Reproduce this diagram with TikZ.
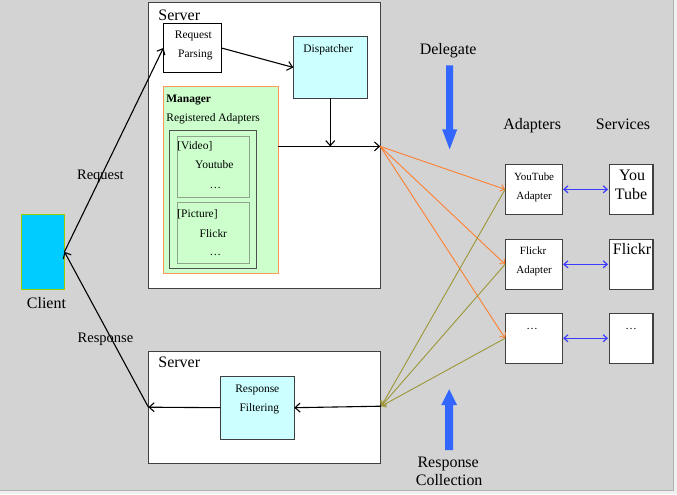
\documentclass[tikz,border=0pt]{standalone}
\usepackage{fontspec}
\setmainfont{Liberation Serif}
\usetikzlibrary{arrows.meta,calc}
\definecolor{bggray}{RGB}{211,211,211}
\definecolor{edgegray}{RGB}{64,64,64}
\definecolor{lcyan}{RGB}{204,255,255}
\definecolor{lgreen}{RGB}{204,255,204}
\definecolor{mgrorange}{RGB}{255,153,85}
\definecolor{innergreen}{RGB}{140,165,140}
\definecolor{darkframe}{RGB}{80,80,80}
\definecolor{clientfill}{RGB}{0,204,255}
\definecolor{clientedge}{RGB}{153,204,0}
\definecolor{orangeline}{RGB}{255,128,48}
\definecolor{oliveline}{RGB}{155,150,55}
\definecolor{blueline}{RGB}{60,60,255}
\definecolor{bigblue}{RGB}{51,102,255}
\tikzset{
  boxN/.style={draw=edgegray, line width=1.1pt, fill=white, anchor=north west, inner sep=0pt, outer sep=0pt},
  txt/.style={inner sep=0pt, outer sep=0pt, text=black},
  small/.style={font=\fontsize{11.5}{13}\selectfont},
  big/.style={font=\fontsize{16}{18}\selectfont},
  mid/.style={font=\fontsize{14.5}{16}\selectfont},
  tip/.style={-{Straight Barb[length=5pt,width=9pt]}},
  stip/.style={-{Straight Barb[length=4pt,width=7pt]}},
  blk/.style={line width=1.1pt, black, tip},
}
\begin{document}
\begin{tikzpicture}[x=1pt,y=-1pt]
% background / frame
\fill[white!94!black] (0,0) rectangle (677,494);
\fill[bggray] (0,0) rectangle (673,490);
\draw[black!30, line width=1pt] (673,0) -- (673,490) -- (0,490);
\useasboundingbox (0,0) rectangle (677,494);

% servers
\node[boxN, minimum width=232pt, minimum height=286pt] (srv1) at (148,2) {};
\node[txt, big, anchor=base west] (srv1t) at (158,20) {Server};
\node[boxN, minimum width=232pt, minimum height=112pt] (srv2) at (148,351) {};
\node[txt, big, anchor=base west] (srv2t) at (158,367) {Server};

% request parsing
\node[boxN, draw=black, minimum width=58pt, minimum height=49pt] (rp) at (163,23) {};
\node[txt, small, anchor=base] (rpt1) at (193,38) {Request};
\node[txt, small, anchor=base] (rpt2) at (195,57) {Parsing};

% dispatcher
\node[boxN, fill=lcyan, minimum width=74pt, minimum height=62pt] (disp) at (293,36) {};
\node[txt, small, anchor=base] (dispt) at (328,52) {Dispatcher};

% manager
\node[boxN, draw=mgrorange, fill=lgreen, line width=0.9pt, minimum width=115pt, minimum height=187pt] (mgr) at (163,86) {};
\node[txt, small, anchor=base west, font=\fontsize{11.5}{13}\selectfont\bfseries] (mgrt) at (166,102) {Manager};
\node[txt, small, anchor=base west] (rat) at (166,121) {Registered Adapters};
\node[boxN, draw=darkframe, fill=lgreen, line width=1.3pt, minimum width=87pt, minimum height=138pt] (reg) at (169,130) {};
\node[boxN, draw=innergreen, fill=lgreen, line width=1.1pt, minimum width=72pt, minimum height=61pt] (vid) at (177,136) {};
\node[boxN, draw=innergreen, fill=lgreen, line width=1.1pt, minimum width=72pt, minimum height=61pt] (pic) at (177,202) {};
\node[txt, small, anchor=base west] (vidt) at (177,149) {[Video]};
\node[txt, small, anchor=base] (ytt) at (214,168) {Youtube};
\node[txt, small, anchor=base] (vdots) at (215,188) {…};
\node[txt, small, anchor=base west] (pict) at (177,217) {[Picture]};
\node[txt, small, anchor=base] (flt) at (213,237) {Flickr};
\node[txt, small, anchor=base] (pdots) at (215,255) {…};

% response filtering
\node[boxN, fill=lcyan, minimum width=74pt, minimum height=63pt] (rf) at (220,376) {};
\node[txt, small, anchor=base] (rft1) at (257,392) {Response};
\node[txt, small, anchor=base] (rft2) at (259,411) {Filtering};

% client
\node[draw=clientedge, fill=clientfill, line width=1pt, anchor=north west, inner sep=0pt, outer sep=0pt, minimum width=43pt, minimum height=75pt] (cl) at (21,214) {};
\node[txt, big, anchor=base] (clt) at (46,308) {Client};

% adapters
\node[boxN, minimum width=57pt, minimum height=50pt] (ya) at (505,164) {};
\node[boxN, minimum width=57pt, minimum height=50pt] (fa) at (505,239) {};
\node[boxN, minimum width=57pt, minimum height=50pt] (da) at (505,313) {};
\node[txt, font=\fontsize{11}{13}\selectfont, anchor=base] (yat1) at (534,180) {YouTube};
\node[txt, font=\fontsize{11}{13}\selectfont, anchor=base] (yat2) at (534,199) {Adapter};
\node[txt, font=\fontsize{11}{13}\selectfont, anchor=base] (fat1) at (533,254) {Flickr};
\node[txt, font=\fontsize{11}{13}\selectfont, anchor=base] (fat2) at (534,273) {Adapter};
\node[txt, small, anchor=base] (dat) at (532,329) {…};

% services
\node[boxN, minimum width=44pt, minimum height=50pt] (ys) at (609,164) {};
\node[boxN, minimum width=44pt, minimum height=50pt] (fs) at (609,239) {};
\node[boxN, minimum width=44pt, minimum height=50pt] (ds) at (609,313) {};
\node[txt, big, anchor=base] (yst1) at (632,180) {You};
\node[txt, big, anchor=base] (yst2) at (631,199) {Tube};
\node[txt, big, anchor=base] (fst) at (632,254) {Flickr};
\node[txt, small, anchor=base] (dst) at (631,329) {…};

% headings
\node[txt, big, anchor=base] (adh) at (532,129) {Adapters};
\node[txt, big, anchor=base] (svh) at (623,129) {Services};
\node[txt, big, anchor=base] (delt) at (448,54) {Delegate};
\node[txt, big, anchor=base] (rct1) at (448,467) {Response};
\node[txt, big, anchor=base] (rct2) at (449,485) {Collection};
\node[txt, mid, anchor=base] (reqt) at (100,179) {Request};
\node[txt, mid, anchor=base] (respt) at (105,342) {Response};

% big block arrows
\fill[bigblue] (446,65) -- (453,65) -- (453,129) -- (457,129) -- (449.5,149) -- (442,129) -- (446,129) -- cycle;
\fill[bigblue] (445,450) -- (453,450) -- (453,405) -- (457,405) -- (449,389) -- (441,405) -- (445,405) -- cycle;

% hubs
\coordinate (hub) at (380,146);
\coordinate (col) at (381,406);

% black connectors
\draw[blk] (cl.east) -- (rp.west);
\draw[blk] (rp.east) -- (disp.west);
\draw[blk] (disp.south) -- (disp.south |- hub);
\draw[blk] (mgr.east |- hub) -- (hub);
\draw[blk] (col) -- (rf.east);
\draw[blk] (rf.west) -- (srv2.west);
\draw[blk] (srv2.west) -- (cl.east);

% orange delegate lines
\foreach \a in {ya,fa,da}{
  \draw[orangeline, line width=0.9pt, stip] (hub) -- (\a.west);
}
% olive collection lines
\foreach \a in {ya,fa,da}{
  \draw[oliveline, line width=0.9pt, stip] (\a.west) -- (col);
}
% blue double arrows
\foreach \a/\s in {ya/ys,fa/fs,da/ds}{
  \draw[blueline, line width=1.2pt, {Straight Barb[length=4pt,width=7pt]}-{Straight Barb[length=4pt,width=7pt]}] (\a.east) ++(1,0) -- ($(\s.west)+(-1,0)$);
}
\end{tikzpicture}
\end{document}
